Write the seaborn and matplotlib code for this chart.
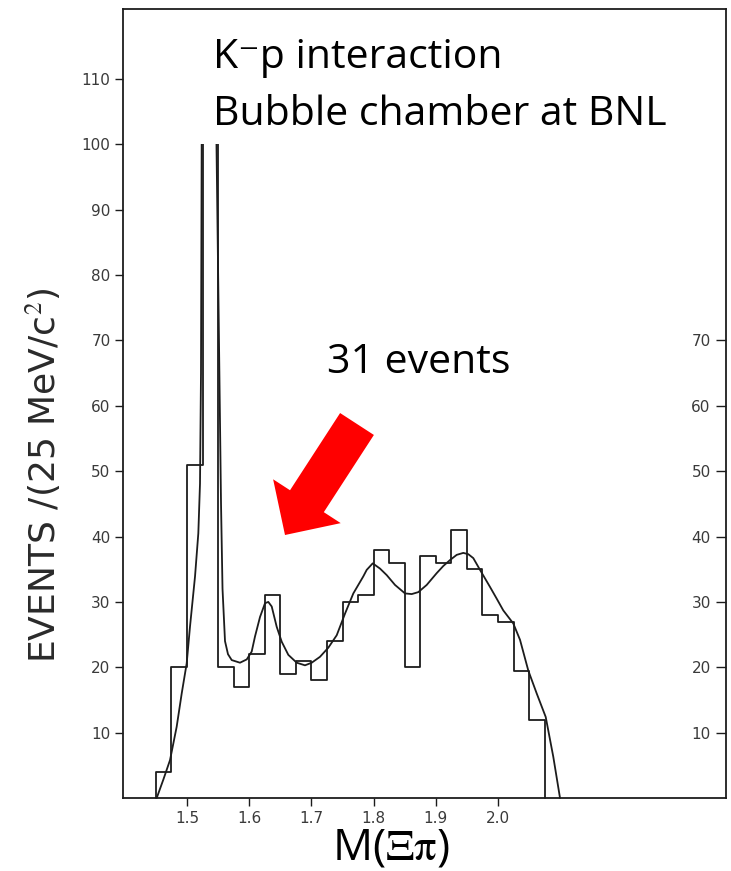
import numpy as np
import pandas as pd
import matplotlib
matplotlib.use("Agg")
import matplotlib.pyplot as plt
import seaborn as sns
from matplotlib.patches import FancyArrowPatch, Rectangle, ArrowStyle

# ---------------- data ----------------
# Histogram: left bin edges (GeV), 25 MeV bins
bin_left_edges = [1.450, 1.475, 1.500, 1.525, 1.550, 1.575, 1.600, 1.625, 1.650,
                  1.675, 1.700, 1.725, 1.750, 1.775, 1.800, 1.825, 1.850, 1.875,
                  1.900, 1.925, 1.950, 1.975, 2.000, 2.025, 2.050]
bin_width = 0.025
# events per bin; the 1.525 bin (Xi(1530)) runs off scale (drawn truncated at 100)
bin_counts = [4, 20, 51, 130, 20, 17, 22, 31, 19, 21, 18, 24, 30, 31, 38, 36, 20, 37,
              36, 41, 35, 28, 27, 19.5, 12]

# Fitted curve
fit_mass = [1.4513, 1.4619, 1.4727, 1.4834, 1.4915, 1.4995, 1.5048, 1.5129, 1.5182,
            1.5209, 1.5225, 1.5236, 1.5350, 1.5474, 1.5514, 1.5547, 1.5571, 1.5611,
            1.5659, 1.5719, 1.5852, 1.5960, 1.6040, 1.6093, 1.6174, 1.6254, 1.6307,
            1.6362, 1.6442, 1.6523, 1.6629, 1.6764, 1.6897, 1.7005, 1.7138, 1.7272,
            1.7407, 1.7540, 1.7674, 1.7834, 1.7889, 1.7986, 1.8103, 1.8211, 1.8344,
            1.8505, 1.8613, 1.8719, 1.8854, 1.9014, 1.9121, 1.9228, 1.9336, 1.9442,
            1.9523, 1.9603, 1.9711, 1.9871, 1.9979, 2.0085, 2.0246, 2.0354, 2.0487,
            2.0622, 2.0767, 2.0889, 2.0997]
fit_events = [0, 2.8, 5.8, 10.9, 16, 20.6, 26.2, 33.9, 40.5,
              48.1, 65, 100, 125, 100, 70, 45, 32, 24,
              22, 21.1, 20.7, 21.2, 22.4, 24.7, 27.7, 29.8, 30.0,
              29.3, 26.2, 23.9, 21.9, 20.7, 20.3, 20.7, 21.6, 23.0,
              24.9, 28.2, 31.3, 33.9, 34.9, 35.9, 35.1, 34.1, 32.6,
              31.3, 31.2, 31.5, 32.6, 34.4, 35.5, 36.4, 37.2, 37.5,
              37.3, 36.7, 34.9, 32.3, 30.5, 28.7, 26.7, 24.2, 19.5,
              16, 12.4, 6.3, 0]

left_ticks = [10, 20, 30, 40, 50, 60, 70, 80, 90, 100, 110]
right_ticks = [10, 20, 30, 40, 50, 60, 70]
x_ticks = [1.5, 1.6, 1.7, 1.8, 1.9, 2.0]
x_tick_labels = ["1.5", "1.6", "1.7", "1.8", "1.9", "2.0"]
display_cut = 100  # figure truncates the peak at 100 events

# ---------------- figure ----------------
sns.set_style("white")
plt.rcParams["mathtext.fontset"] = "stix"

W, H = 731, 871
fig = plt.figure(figsize=(W / 100, H / 100), dpi=100)
ax_l, ax_r, ax_b, ax_t = 123, 726, 798, 9
ax = fig.add_axes([ax_l / W, 1 - ax_b / H, (ax_r - ax_l) / W, (ax_b - ax_t) / H])

ink = "#1c1c1c"
tick_col = "#3a3a3a"

# histogram as a step outline
edges = bin_left_edges + [bin_left_edges[-1] + bin_width]
hx = [edges[0]] + edges
hy = [0] + bin_counts + [0]
hist_df = pd.DataFrame({"mass": hx, "events": hy})
sns.lineplot(data=hist_df, x="mass", y="events", sort=False, estimator=None,
             drawstyle="steps-post", color=ink, lw=1.3, ax=ax)
hist_line = ax.lines[-1]

fit_df = pd.DataFrame({"mass": fit_mass, "events": fit_events})
sns.lineplot(data=fit_df, x="mass", y="events", sort=False, estimator=None,
             color=ink, lw=1.3, ax=ax)
fit_line = ax.lines[-1]
fit_line.set_solid_joinstyle("round")

xlim = (1.5 + (ax_l - 187) / 622, 1.5 + (ax_r - 187) / 622)
ylim = (0, (ax_b - ax_t) / 6.536)
ax.set_xlim(*xlim)
ax.set_ylim(*ylim)

for ln in (hist_line, fit_line):
    clip = Rectangle((xlim[0], -5), xlim[1] - xlim[0], display_cut + 5,
                     transform=ax.transData, fill=False, visible=False)
    ax.add_patch(clip)
    ln.set_clip_path(clip)

for s in ax.spines.values():
    s.set_color(ink)
    s.set_linewidth(1.3)

ax.set_yticks(left_ticks)
ax.set_yticklabels([str(t) for t in left_ticks])
ax.set_xticks(x_ticks)
ax.set_xticklabels(x_tick_labels)
ax.tick_params(axis="both", direction="out", length=6, width=1.0, color=ink,
               labelsize=11, labelcolor=tick_col, pad=3)
ax.tick_params(axis="y", left=True)
ax.tick_params(axis="x", bottom=True)

ax.set_xlabel("M($\\mathrm{\\Xi\\pi}$)", fontsize=32, family="Open Sans", color="black")
ax.xaxis.set_label_coords((391 - ax_l) / (ax_r - ax_l), (ax_b - 848) / (ax_b - ax_t))
ax.xaxis.label.set_va("center")

ax.set_ylabel("EVENTS /(25 MeV/c$^2$)", fontsize=26, family="DejaVu Sans",
              color="#2a2a2a")
ax.yaxis.label.set_va("center")
ax.yaxis.set_label_coords((43 - ax_l) / (ax_r - ax_l), (ax_b - 475) / (ax_b - ax_t))

# right-hand scale, labels drawn inside the frame
ax2 = ax.twinx()
ax2.set_ylim(*ylim)
ax2.set_yticks(right_ticks)
ax2.set_yticklabels([str(t) for t in right_ticks])
ax2.tick_params(axis="y", direction="in", length=7, width=1.0, color=ink,
                labelsize=11, labelcolor=tick_col, pad=-11, right=True)
plt.setp(ax2.get_yticklabels(), ha="right")
for s in ax2.spines.values():
    s.set_visible(False)

# annotations
txt_font = ["Open Sans", "DejaVu Sans"]
fig.text(213 / W, 1 - 68 / H, "K\u207bp interaction", fontsize=29.5, family=txt_font,
         ha="left", va="baseline", color="black")
fig.text(213 / W, 1 - 125 / H, "Bubble chamber at BNL", fontsize=29.5, family=txt_font,
         ha="left", va="baseline", color="black")
fig.text(327 / W, 1 - 373 / H, "31 events", fontsize=29.5, family=txt_font,
         ha="left", va="baseline", color="black")

arrow = FancyArrowPatch((357 / W, 1 - 424 / H), (285 / W, 1 - 535 / H),
                        transform=fig.transFigure,
                        arrowstyle=ArrowStyle.Simple(head_length=29, head_width=58,
                                                     tail_width=29),
                        mutation_scale=1, color="#ff0000", lw=0,
                        shrinkA=0, shrinkB=0)
fig.patches.append(arrow)

fig.savefig("out.png", dpi=100)
